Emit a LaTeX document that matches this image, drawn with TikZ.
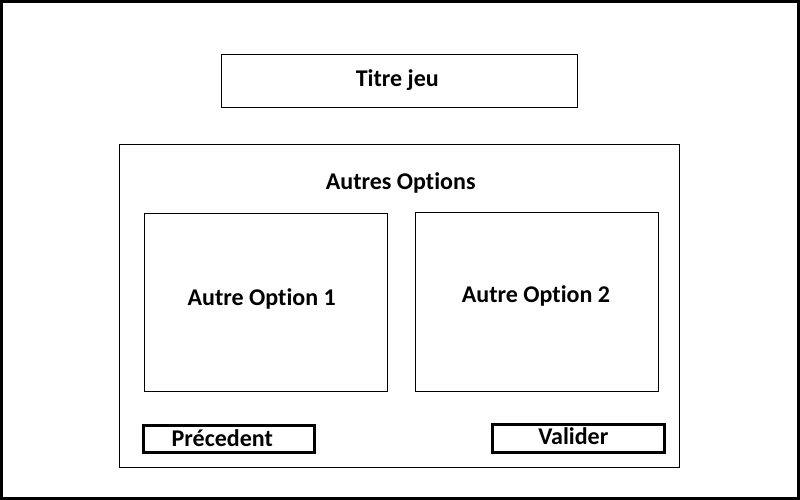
\documentclass[tikz,border=0pt]{standalone}
\usepackage{fontspec}
\setmainfont{Carlito}[Ligatures=NoCommon]
\usepackage{tikz}
\usetikzlibrary{positioning}

\begin{document}
\begin{tikzpicture}[
    x=1pt, y=-1pt,
    box/.style={rectangle, draw=black, line width=1pt, fill=white, inner sep=0pt},
    btn/.style={box, line width=3pt},
    txt/.style={anchor=base, inner sep=0pt, font=\fontsize{24}{28}\selectfont\bfseries}
]

% --- frame ---
\useasboundingbox (0,0) rectangle (800,500);
\draw[line width=3pt] (1.5,1.5) rectangle (798.5,498.5);

% --- Titre ---
\node[box, minimum width=356pt, minimum height=53pt] (titre) at (399,81.5) {};
\node[txt] (titre-txt) at (397.3,86.5) {Titre jeu};

% --- Autres options ---
\node[box, minimum width=560pt, minimum height=323pt] (options) at (399,305.5) {};
\node[txt] (autres) at (400.7,189) {Autres Options};

% two option panels
\node[box, minimum width=243pt, minimum height=178pt] (opt1) at (265.5,302) {};
\node[txt] (opt1-txt) at (261.7,305.3) {Autre Option 1};
\node[box, minimum width=243pt, minimum height=179pt] (opt2) at (536.5,301.5) {};
\node[txt] (opt2-txt) at (536,302.5) {Autre Option 2};

% --- Buttons ---
\node[btn, minimum width=171.5pt, minimum height=27.5pt] (prec) at (228.75,438.75) {};
\node[txt] (prec-txt) at (222.3,446.5) {Précedent};
\node[btn, minimum width=172pt, minimum height=28pt] (valider) at (578,438) {};
\node[txt] (valider-txt) at (573.3,444) {Valider};

\end{tikzpicture}
\end{document}
